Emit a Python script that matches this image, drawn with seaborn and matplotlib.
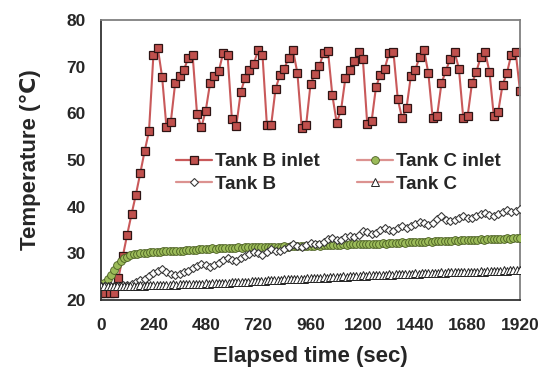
import numpy as np
import pandas as pd
import matplotlib
matplotlib.use("Agg")
import matplotlib.pyplot as plt
import seaborn as sns
from matplotlib.lines import Line2D

# ---------------- data ----------------
time_20 = np.arange(0, 1921, 20)   # sampling every 20 s
time_15 = np.arange(0, 1921, 15)   # sampling every 15 s

tank_b_inlet = [
    21.5, 21.5, 21.5, 21.6, 24.7, 29.4, 34.0, 38.4, 42.6, 47.2, 51.9, 56.2,
    72.4, 74.1, 67.8, 57.0, 58.2, 66.5, 68.0, 69.3, 71.9, 72.4,
    59.9, 57.0, 60.6, 66.5, 68.0, 69.1, 73.0, 72.5,
    58.7, 57.3, 64.5, 67.6, 69.2, 70.6, 73.6, 72.5,
    57.6, 57.6, 65.3, 68.2, 69.6, 71.9, 73.5, 68.6,
    56.8, 57.5, 66.2, 68.5, 70.1, 72.9, 73.4, 63.9,
    58.0, 60.7, 67.6, 69.2, 71.2, 73.2, 71.6,
    57.7, 58.3, 65.6, 68.3, 69.6, 72.9, 73.2, 63.0,
    58.9, 61.2, 68.0, 69.3, 72.1, 73.6, 68.6,
    58.9, 59.4, 66.4, 69.1, 71.6, 73.2, 69.6,
    59.0, 59.4, 66.5, 68.9, 72.1, 73.2, 68.9,
    59.4, 60.3, 66.1, 68.6, 72.6, 73.2, 64.8,
]

tank_c_inlet = [
    23.0, 23.6, 24.4, 25.4, 26.4, 27.5, 28.3, 28.9, 29.3, 29.6, 29.8, 29.9, 30.0, 30.1, 30.1, 30.2,
    30.2, 30.3, 30.3, 30.4, 30.4, 30.5, 30.5, 30.6, 30.6, 30.6, 30.7, 30.7, 30.8, 30.8, 30.9,
    30.9, 31.0, 31.0, 31.1, 31.0, 31.1, 31.1, 31.2, 31.1, 31.2, 31.2, 31.3, 31.2, 31.3, 31.3,
    31.3, 31.3, 31.4, 31.3, 31.4, 31.4, 31.3, 31.4, 31.4, 31.4, 31.5, 31.4, 31.5, 31.5, 31.5,
    31.5, 31.6, 31.5, 31.6, 31.6, 31.7, 31.6, 31.7, 31.7, 31.8, 31.7, 31.8, 31.8, 31.9, 31.8,
    31.9, 31.9, 32.0, 31.9, 32.0, 32.0, 32.1, 32.0, 32.1, 32.1, 32.2, 32.1, 32.2, 32.2, 32.3,
    32.3, 32.4, 32.3, 32.4, 32.4, 32.5, 32.4, 32.5, 32.5, 32.6, 32.5, 32.6, 32.6, 32.7, 32.6,
    32.7, 32.7, 32.8, 32.7, 32.8, 32.8, 32.9, 32.8, 32.9, 32.9, 33.0, 32.9, 33.0, 33.0, 33.1,
    33.0, 33.1, 33.1, 33.2, 33.1, 33.2, 33.2, 33.3,
]

tank_b = [
    23.0, 23.0, 23.0, 23.1, 23.1, 23.2, 23.3, 23.5, 23.8, 24.2, 24.6,
    25.2, 25.8, 26.3, 26.6, 26.0, 25.5, 25.4, 25.6, 25.9, 26.3,
    26.8, 27.3, 27.8, 27.4, 27.0, 27.4, 28.0, 28.5, 29.0, 28.6,
    28.4, 28.9, 29.4, 29.8, 30.3, 30.0, 29.7, 30.3, 31.0, 30.6,
    30.4, 30.9, 31.4, 31.9, 31.6, 31.3, 31.8, 32.3, 32.0, 31.9,
    32.4, 33.0, 33.3, 32.8, 32.9, 33.4, 33.8, 33.5, 34.0, 34.8,
    34.5, 34.1, 34.4, 35.0, 35.5, 35.0, 34.8, 35.4, 35.9, 35.5,
    35.8, 36.3, 36.8, 36.4, 36.1, 36.6, 37.4, 37.9, 37.2, 36.9,
    37.2, 37.6, 38.0, 37.6, 37.5, 38.0, 38.4, 38.7, 38.3, 38.1,
    38.4, 38.9, 39.2, 38.8, 39.0, 39.5,
]

tank_c = [
    23.0, 23.0, 23.0, 22.9, 23.0, 23.0, 23.0, 23.1, 23.0, 23.1, 23.1, 23.1, 23.2, 23.1, 23.2, 23.2,
    23.2, 23.3, 23.2, 23.3, 23.3, 23.3, 23.4, 23.3, 23.4, 23.4, 23.5, 23.4, 23.5, 23.5, 23.5,
    23.5, 23.6, 23.5, 23.6, 23.6, 23.7, 23.6, 23.7, 23.7, 23.8, 23.8, 23.9, 23.8, 23.9, 23.9,
    24.0, 24.0, 24.1, 24.0, 24.1, 24.2, 24.2, 24.3, 24.2, 24.3, 24.4, 24.4, 24.5, 24.5, 24.6,
    24.6, 24.6, 24.7, 24.7, 24.8, 24.7, 24.8, 24.9, 24.8, 24.9, 25.0, 24.9, 25.0, 25.1, 25.0,
    25.1, 25.2, 25.1, 25.2, 25.3, 25.2, 25.3, 25.3, 25.4, 25.3, 25.4, 25.4, 25.5, 25.4, 25.5,
    25.5, 25.6, 25.5, 25.6, 25.6, 25.7, 25.6, 25.7, 25.7, 25.8, 25.7, 25.8, 25.8, 25.9, 25.8,
    25.9, 25.9, 26.0, 25.9, 26.0, 26.0, 26.1, 26.0, 26.1, 26.1, 26.2, 26.1, 26.2, 26.2, 26.3,
    26.3, 26.3, 26.4, 26.3, 26.4, 26.4, 26.5, 26.5,
]

x_ticks = [0, 240, 480, 720, 960, 1200, 1440, 1680, 1920]
y_ticks = [20, 30, 40, 50, 60, 70, 80]

# ---------------- style ----------------
sns.set_style("white")
plt.rcParams["font.family"] = ["Liberation Sans", "DejaVu Sans"]
plt.rcParams["font.weight"] = "bold"

fig = plt.figure(figsize=(5.52, 3.69), dpi=100)
ax = fig.add_axes([101 / 552, 1 - 300 / 369, 419 / 552, 280 / 369])

line_red = "#c9595a"
line_pink = "#dc9290"

sq = dict(marker="s", markersize=5.8, markerfacecolor="#c0504d",
          markeredgecolor="#2e1414", markeredgewidth=0.9)
ci = dict(marker="o", markersize=5.6, markerfacecolor="#9bbb59",
          markeredgecolor="#4a5e22", markeredgewidth=0.6)
di = dict(marker="D", markersize=4.0, markerfacecolor="white",
          markeredgecolor="#3a3a3a", markeredgewidth=0.8)
tr = dict(marker="^", markersize=5.6, markerfacecolor="white",
          markeredgecolor="#222222", markeredgewidth=0.7)

df_bi = pd.DataFrame({"t": time_20, "T": tank_b_inlet})
df_ci = pd.DataFrame({"t": time_15, "T": tank_c_inlet})
df_b = pd.DataFrame({"t": time_20, "T": tank_b})
df_c = pd.DataFrame({"t": time_15, "T": tank_c})

sns.lineplot(data=df_bi, x="t", y="T", ax=ax, color=line_red, lw=1.5,
             label="Tank B inlet", zorder=2, **sq)
sns.lineplot(data=df_ci, x="t", y="T", ax=ax, color=line_pink, lw=1.0,
             label="Tank C inlet", zorder=3, **ci)
sns.lineplot(data=df_b, x="t", y="T", ax=ax, color=line_pink, lw=0.0,
             label="Tank B", zorder=4, **di)
sns.lineplot(data=df_c, x="t", y="T", ax=ax, color=line_pink, lw=0.0,
             label="Tank C", zorder=5, **tr)

ax.set_xlim(0, 1920)
ax.set_ylim(20, 80)
ax.set_xticks(x_ticks)
ax.set_yticks(y_ticks)
ax.set_xticklabels([str(v) for v in x_ticks])
ax.set_yticklabels([str(v) for v in y_ticks])
ax.tick_params(axis="both", direction="in", length=5, width=1.0,
               color="#333333", labelsize=12.5)
ax.tick_params(axis="x", pad=13)
ax.tick_params(axis="y", pad=11)
for lab in ax.get_xticklabels() + ax.get_yticklabels():
    lab.set_fontweight("bold")

for side in ["left", "bottom"]:
    ax.spines[side].set_color("#333333")
    ax.spines[side].set_linewidth(1.3)
for side in ["top", "right"]:
    ax.spines[side].set_color("#808080")
    ax.spines[side].set_linewidth(1.3)

ax.set_xlabel("Elapsed time (sec)", fontsize=16, fontweight="bold", labelpad=9)
ax.set_ylabel("Temperature (℃)", fontsize=16, fontweight="bold", labelpad=18)

# legend: handles with connecting lines
h_bi = Line2D([], [], color=line_red, lw=1.6, **sq)
h_ci = Line2D([], [], color=line_pink, lw=1.6, **ci)
h_b = Line2D([], [], color=line_pink, lw=1.6, **di)
h_c = Line2D([], [], color=line_pink, lw=1.6, **tr)
ax.legend([h_bi, h_b, h_ci, h_c], ["Tank B inlet", "Tank B", "Tank C inlet", "Tank C"],
          ncol=2, frameon=False, loc="upper left", bbox_to_anchor=(0.18, 0.525),
          prop={"size": 13.5, "weight": "bold"}, handlelength=1.9,
          handletextpad=0.15, columnspacing=2.0, labelspacing=0.3,
          borderaxespad=0, borderpad=0)

fig.savefig("out.png", dpi=100)
